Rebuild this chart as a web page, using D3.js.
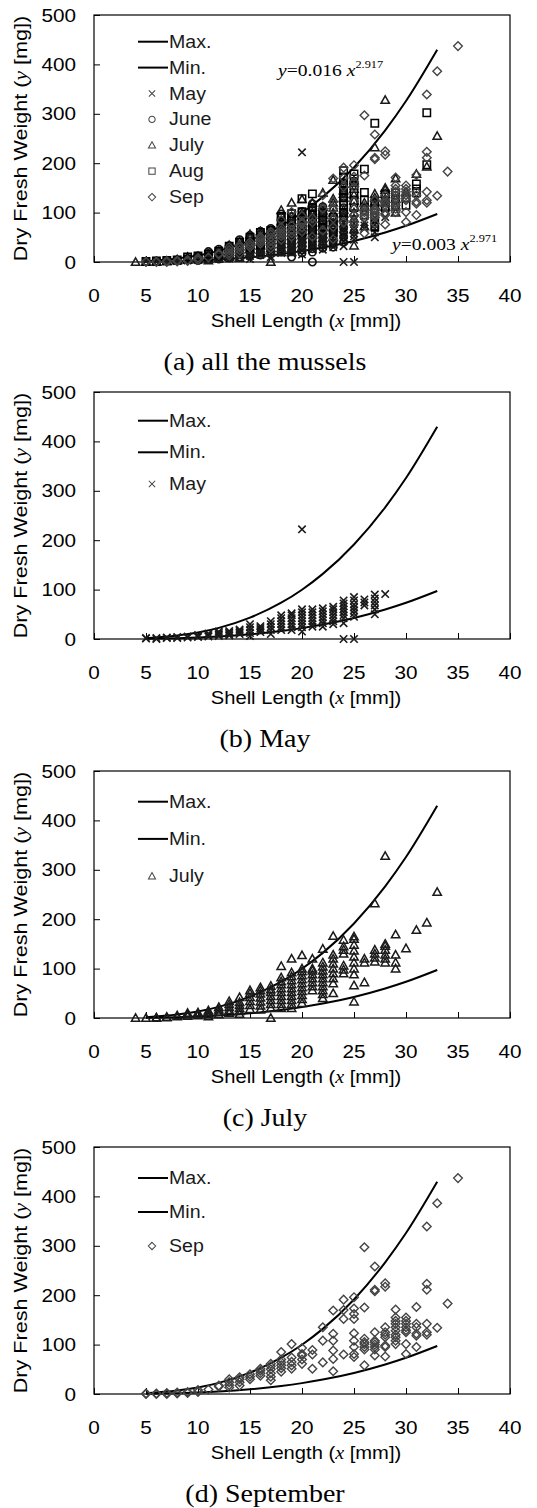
<!DOCTYPE html>
<html>
<head>
<meta charset="utf-8">
<title>Shell length vs dry fresh weight</title>
<style>
  body { margin: 0; background: #fff; }
  svg { display: block; }
</style>
</head>
<body>
<script src="https://d3js.org/d3.v7.min.js"></script>
<script>
// ---- data ----
const xTicks = [0, 5, 10, 15, 20, 25, 30, 35, 40];
const yTicks = [0, 100, 200, 300, 400, 500];

// fitted curves, read at a few shell lengths
const curveX   = [5, 8, 10, 12, 15, 18, 20, 22, 25, 28, 30, 33];
const maxCurve = [1.75, 6.89, 13.2, 22.5, 43.2, 73.4, 99.8, 131.8, 191.4, 266.5, 325.8, 429.6];
const minCurve = [0.36, 1.44, 2.81, 4.82, 9.37, 16.1, 22.0, 29.2, 42.7, 59.8, 73.4, 97.3];

// [shell length mm, dry fresh weight mg]
const may = [[5,1],[5,2],[6,0],[6,2],[7,2],[7,3],[8,2],[8,4],[9,3],[9,5],[10,4],[10,6],[10,8],
  [11,5],[11,8],[11,11],[12,6],[12,9],[12,12],[12,15],[13,7],[13,10],[13,13],[13,16],
  [14,10],[14,13],[14,16],[14,19],[15,6],[15,12],[15,18],[15,24],[15,30],
  [16,14],[16,18],[16,22],[16,26],[17,10],[17,18],[17,24],[17,30],[17,36],
  [18,18],[18,24],[18,30],[18,36],[18,42],[18,48],[19,18],[19,24],[19,30],[19,36],[19,42],[19,48],[19,52],
  [20,15],[20,24],[20,30],[20,36],[20,42],[20,48],[20,54],[20,60],[20,222],
  [21,25],[21,30],[21,36],[21,42],[21,48],[21,54],[21,60],
  [22,25],[22,32],[22,38],[22,44],[22,50],[22,56],[22,62],
  [23,30],[23,36],[23,42],[23,48],[23,54],[23,60],[23,65],
  [24,0],[24,32],[24,42],[24,48],[24,54],[24,60],[24,66],[24,72],[24,78],
  [25,0],[25,45],[25,52],[25,58],[25,64],[25,70],[25,78],[25,85],
  [26,68],[26,74],[26,80],[27,50],[27,60],[27,68],[27,75],[27,82],[27,90],[28,91]];

const june = [[5,1],[6,2],[7,3],[8,4],[9,5],[10,3],[10,6],[10,9],[10,12],
  [11,5],[11,9],[11,13],[11,17],[11,21],[12,6],[12,10],[12,14],[12,18],[12,22],[12,26],
  [13,8],[13,13],[13,18],[13,23],[13,28],[13,33],[14,10],[14,15],[14,20],[14,25],[14,30],[14,35],[14,40],[14,45],
  [15,12],[15,18],[15,24],[15,30],[15,36],[15,42],[15,48],[15,54],
  [16,14],[16,20],[16,26],[16,32],[16,38],[16,44],[16,50],[16,56],[16,62],
  [17,16],[17,22],[17,28],[17,34],[17,40],[17,46],[17,52],[17,58],[17,64],[17,68],
  [18,20],[18,27],[18,34],[18,41],[18,48],[18,55],[18,62],[18,69],[18,76],[18,83],[18,90],[18,97],
  [19,10],[19,22],[19,29],[19,36],[19,43],[19,50],[19,57],[19,64],[19,71],[19,78],[19,85],[19,92],[19,99],
  [20,18],[20,25],[20,32],[20,39],[20,46],[20,53],[20,60],[20,67],[20,74],[20,81],[20,88],[20,95],[20,102],
  [21,0],[21,20],[21,27],[21,34],[21,41],[21,48],[21,55],[21,62],[21,69],[21,76],[21,83],[21,90],[21,97],[21,104],[21,111],[21,118],
  [22,28],[22,35],[22,42],[22,49],[22,56],[22,63],[22,70],[22,77],[22,84],[22,91],[22,98],[22,105],[22,112],
  [23,30],[23,37],[23,44],[23,51],[23,58],[23,65],[23,72],[23,79],[23,86],[23,93],
  [24,40],[24,50],[24,60],[24,70],[24,80],[24,90],[24,100],[24,110],[24,120],[24,130],[24,140],[24,150],[24,160]];

const july = [[4,0],[5,0],[6,0],[6,1],[7,1],[7,2],[8,3],[8,5],[9,4],[9,7],[9,10],[10,5],[10,8],[10,11],
  [11,3],[11,7],[11,11],[11,15],[12,7],[12,12],[12,17],[12,22],[13,10],[13,16],[13,22],[13,28],[13,34],
  [14,8],[14,14],[14,20],[14,26],[14,32],[14,42],[15,18],[15,26],[15,34],[15,42],[15,50],[15,56],
  [16,17],[16,25],[16,33],[16,41],[16,49],[16,56],[16,62],[17,0],[17,20],[17,28],[17,36],[17,44],[17,52],[17,58],[17,65],
  [18,20],[18,28],[18,36],[18,44],[18,52],[18,60],[18,68],[18,74],[18,82],[18,105],
  [19,20],[19,28],[19,36],[19,44],[19,52],[19,60],[19,68],[19,76],[19,84],[19,92],[19,120],
  [20,30],[20,38],[20,46],[20,54],[20,62],[20,70],[20,78],[20,86],[20,94],[20,100],[20,127],
  [21,56],[21,64],[21,72],[21,80],[21,88],[21,96],[21,100],[21,120],
  [22,40],[22,48],[22,56],[22,64],[22,72],[22,80],[22,88],[22,96],[22,104],[22,112],[22,140],
  [23,50],[23,70],[23,80],[23,90],[23,100],[23,110],[23,120],[23,128],[23,166],
  [24,90],[24,98],[24,106],[24,130],[24,138],[24,145],[24,158],
  [25,33],[25,66],[25,88],[25,100],[25,112],[25,124],[25,136],[25,148],[25,160],[25,165],
  [26,72],[26,112],[26,120],[27,114],[27,122],[27,130],[27,138],[27,232],
  [28,112],[28,120],[28,128],[28,138],[28,146],[28,150],[28,328],
  [29,100],[29,112],[29,128],[29,169],[30,141],[31,178],[32,193],[33,255]];

const aug = [[5,1],[6,2],[7,3],[8,4],[9,6],[9,10],[10,8],[10,12],[11,10],[11,16],[12,14],[12,22],[13,18],[13,26],[13,32],
  [14,22],[14,32],[14,40],[15,30],[15,40],[15,50],[16,35],[16,48],[16,60],[17,40],[17,52],[17,64],
  [18,50],[18,65],[18,80],[18,92],[19,55],[19,70],[19,85],[19,98],[20,60],[20,75],[20,90],[20,102],[20,128],
  [21,65],[21,80],[21,95],[21,110],[21,138],[22,70],[22,85],[22,100],[23,60],[23,75],[23,90],
  [24,100],[24,115],[24,130],[24,145],[24,160],[24,172],[24,185],[25,110],[25,125],[25,140],[25,155],[25,168],[25,178],
  [26,95],[26,110],[26,125],[26,141],[26,188],[27,72],[27,90],[27,105],[27,120],[27,281],
  [28,110],[28,125],[28,138],[29,115],[29,128],[29,140],[30,115],[30,130],[31,140],[31,148],[31,158],[32,197],[32,302]];

const sep = [[5,0],[5,1],[6,0],[6,1],[7,0],[7,2],[8,1],[8,3],[9,2],[9,4],[10,4],[10,8],[11,9],[12,15],[12,17],
  [13,13],[13,18],[13,24],[13,30],[14,17],[14,24],[14,30],[14,34],[15,30],[15,35],[15,40],
  [16,37],[16,42],[16,47],[16,51],[17,28],[17,35],[17,42],[17,50],[17,56],[17,61],
  [18,45],[18,52],[18,58],[18,64],[18,70],[18,85],[19,51],[19,58],[19,65],[19,74],[19,101],
  [20,61],[20,70],[20,78],[20,81],[20,93],[21,51],[21,80],[21,89],[22,64],[22,108],[22,135],
  [23,46],[23,71],[23,88],[23,108],[23,122],[23,169],[24,80],[24,152],[24,170],[24,191],
  [25,75],[25,81],[25,95],[25,108],[25,123],[25,152],[25,162],[25,173],[25,196],
  [26,58],[26,90],[26,95],[26,101],[26,105],[26,112],[26,175],[26,297],
  [27,78],[27,90],[27,95],[27,100],[27,105],[27,108],[27,125],[27,208],[27,211],[27,258],
  [28,76],[28,95],[28,98],[28,115],[28,120],[28,125],[28,135],[28,217],[28,224],
  [29,101],[29,108],[29,115],[29,120],[29,128],[29,135],[29,142],[29,148],[29,155],[29,171],
  [30,81],[30,101],[30,125],[30,129],[30,135],[30,142],[30,148],[30,155],
  [31,95],[31,118],[31,122],[31,135],[31,142],[31,176],[32,120],[32,125],[32,142],[32,211],[32,223],[32,339],
  [33,134],[33,386],[34,183],[35,437]];

const months = {
  May:  {data: may,  shape: 'times',    color: '#1a1a1a', sw: 1.6},
  June: {data: june, shape: 'circle',   color: '#111',    sw: 1.6},
  July: {data: july, shape: 'triangle', color: '#1a1a1a', sw: 1.5},
  Aug:  {data: aug,  shape: 'square',   color: '#000',    sw: 1.5},
  Sep:  {data: sep,  shape: 'diamond',  color: '#444',    sw: 1.4}
};

const panels = [
  {top: 15,   caption: '(a) all the mussels', show: ['May', 'June', 'July', 'Aug', 'Sep'], legTop: 26.7, legStep: 25.9, eq: true},
  {top: 392,  caption: '(b) May',       show: ['May'],  legTop: 28.7, legStep: 31.6},
  {top: 771,  caption: '(c) July',      show: ['July'], legTop: 30.7, legStep: 37.2},
  {top: 1147, caption: '(d) September', show: ['Sep'],  legTop: 31,   legStep: 34}
];

// ---- layout ----
const W = 537, H = 1508;
const left = 94, right = 510, plotH = 247;
const SX = 1.12;   // the original type is a bit wide
const sans = "'Liberation Sans', Arial, sans-serif";
const serif = "'Liberation Serif', 'Times New Roman', serif";

const svg = d3.select('body').append('svg').attr('width', W).attr('height', H);
svg.append('rect').attr('width', W).attr('height', H).attr('fill', '#fff');

function markerPath(shape) {
  const s = 3.7;
  if (shape === 'times') return `M${-s},${-s}L${s},${s}M${-s},${s}L${s},${-s}`;
  if (shape === 'circle') return `M${s},0A${s},${s} 0 1,1 ${-s},0A${s},${s} 0 1,1 ${s},0Z`;
  if (shape === 'triangle') return `M0,-4.2L4.2,3.3L-4.2,3.3Z`;
  if (shape === 'square') return `M${-s},${-s}H${s}V${s}H${-s}Z`;
  return `M0,-4.3L4.3,0L0,4.3L-4.3,0Z`;
}

function txt(g, x, y, str, size, family, anchor) {
  return g.append('text')
    .attr('transform', 'translate(' + x + ',' + y + ') scale(' + SX + ',1)')
    .attr('text-anchor', anchor || 'start')
    .attr('font-family', family).attr('font-size', size)
    .attr('fill', '#000')
    .text(str);
}

const x = d3.scaleLinear().domain([0, 40]).range([left, right]);

panels.forEach(function(p) {
  const bottom = p.top + plotH;
  const y = d3.scaleLinear().domain([0, 500]).range([bottom, p.top]);
  const g = svg.append('g');

  // frame
  g.append('rect').attr('x', left).attr('y', p.top)
    .attr('width', right - left).attr('height', plotH)
    .attr('fill', 'none').attr('stroke', '#000').attr('stroke-width', 1.2);

  // axes with inward ticks
  g.append('g').attr('transform', 'translate(0,' + bottom + ')')
    .call(d3.axisTop(x).tickValues(xTicks).tickSize(6).tickFormat(''))
    .call(a => a.select('.domain').remove());
  g.append('g').attr('transform', 'translate(' + left + ',0)')
    .call(d3.axisRight(y).tickValues(yTicks).tickSize(6).tickFormat(''))
    .call(a => a.select('.domain').remove());

  xTicks.forEach(t => txt(g, x(t), bottom + 39.5, t, 18.5, sans, 'middle'));
  yTicks.forEach(t => txt(g, 76, y(t) + 6.5, t, 18.5, sans, 'end'));

  // axis titles
  const xt = txt(g, 306, bottom + 65, '', 18, sans, 'middle');
  xt.append('tspan').text('Shell Length (');
  xt.append('tspan').attr('font-family', serif).attr('font-style', 'italic').text('x');
  xt.append('tspan').text(' [mm])');

  const yt = g.append('text')
    .attr('transform', 'translate(27,' + (p.top + plotH / 2) + ') rotate(-90) scale(1.2,1)')
    .attr('text-anchor', 'middle').attr('font-family', sans).attr('font-size', 18);
  yt.append('tspan').text('Dry Fresh Weight (');
  yt.append('tspan').attr('font-family', serif).attr('font-style', 'italic').text('y');
  yt.append('tspan').text(' [mg])');

  // curves
  const line = d3.line().x(d => x(d[0])).y(d => y(d[1])).curve(d3.curveMonotoneX);
  [maxCurve, minCurve].forEach(function(c) {
    g.append('path').datum(curveX.map((v, i) => [v, c[i]]))
      .attr('d', line).attr('fill', 'none').attr('stroke', '#000').attr('stroke-width', 2);
  });

  // points
  p.show.forEach(function(m) {
    const cfg = months[m];
    g.append('g').selectAll('path').data(cfg.data).join('path')
      .attr('transform', d => 'translate(' + x(d[0]) + ',' + y(d[1]) + ')')
      .attr('d', markerPath(cfg.shape))
      .attr('fill', 'none').attr('stroke', cfg.color).attr('stroke-width', cfg.sw);
  });

  // legend
  const legItems = ['Max.', 'Min.'].concat(p.show);
  legItems.forEach(function(name, i) {
    const ly = p.top + p.legTop + i * p.legStep;
    if (i < 2) {
      g.append('line').attr('x1', 138).attr('x2', 168).attr('y1', ly).attr('y2', ly)
        .attr('stroke', '#000').attr('stroke-width', 2);
    } else {
      g.append('path').attr('transform', 'translate(152,' + ly + ') scale(0.85)')
        .attr('d', markerPath(months[name].shape))
        .attr('fill', 'none').attr('stroke', '#444').attr('stroke-width', 1.2);
    }
    txt(g, 169, ly + 6, name, 17.5, sans, 'start').attr('fill', '#1a1a1a');
  });

  // fitted equations
  if (p.eq) {
    [[278, p.top + 61, '0.016', '2.917'], [392, p.top + 235, '0.003', '2.971']].forEach(function(e) {
      const t = txt(g, e[0], e[1], '', 17.5, serif, 'start');
      t.append('tspan').attr('font-style', 'italic').text('y');
      t.append('tspan').text('=' + e[2] + ' ');
      t.append('tspan').attr('font-style', 'italic').text('x');
      t.append('tspan').attr('font-size', 11).attr('dy', -8).text(e[3]);
    });
  }

  // caption
  txt(g, 265, bottom + 108, p.caption, 25, serif, 'middle');
});
</script>
</body>
</html>
